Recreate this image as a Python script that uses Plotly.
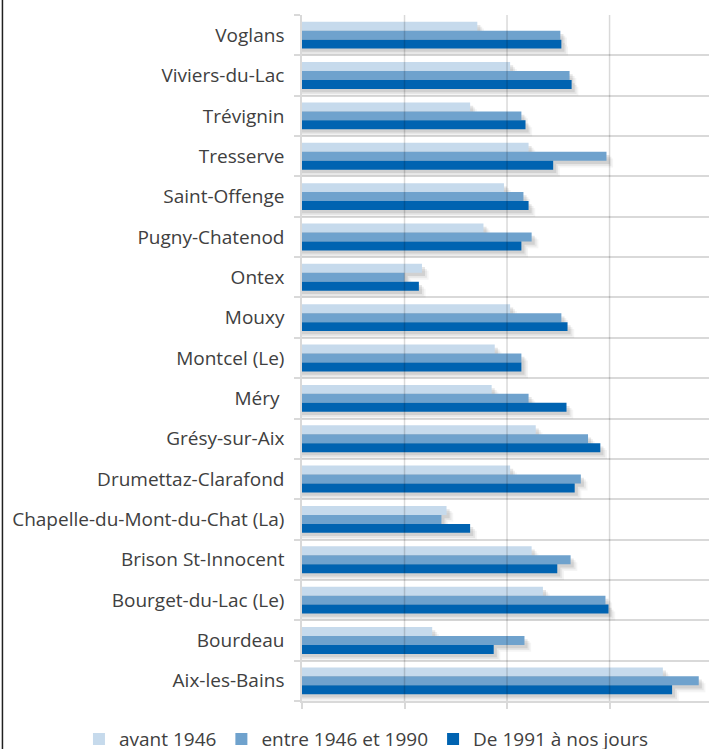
import plotly.graph_objects as go

# ---- data (unit = one vertical gridline step) ----
communes = [
    "Aix-les-Bains", "Bourdeau", "Bourget-du-Lac (Le)", "Brison St-Innocent",
    "Chapelle-du-Mont-du-Chat (La)", "Drumettaz-Clarafond", "Grésy-sur-Aix",
    "Méry ", "Montcel (Le)", "Mouxy", "Ontex", "Pugny-Chatenod",
    "Saint-Offenge", "Tresserve", "Trévignin", "Viviers-du-Lac", "Voglans",
]
avant_1946 = [3.52, 1.27, 2.35, 2.24, 1.41, 2.03, 2.28, 1.85, 1.88, 2.03,
              1.17, 1.77, 1.97, 2.21, 1.64, 2.03, 1.71]
entre_1946_1990 = [3.87, 2.17, 2.96, 2.62, 1.36, 2.72, 2.79, 2.21, 2.14, 2.53,
                   1.00, 2.24, 2.16, 2.97, 2.14, 2.61, 2.52]
depuis_1991 = [3.61, 1.87, 2.99, 2.49, 1.64, 2.66, 2.91, 2.58, 2.14, 2.59,
               1.14, 2.14, 2.21, 2.45, 2.18, 2.63, 2.53]
series_names = ["avant 1946", "entre 1946 et 1990", "De 1991 à nos jours"]
grid_ticks = [0, 1, 2, 3, 4]

# ---- styling ----
colors = ["#C6DAEC", "#6FA2CD", "#0063B1"]
BAR_W = 0.222
offsets = [0.111, -0.111, -0.333]   # light on top, dark at bottom
FONT = "Open Sans"
TXT = "#404040"
GRID = "#D9D9D9"

fig = go.Figure()

all_series = [avant_1946, entre_1946_1990, depuis_1991]

# soft drop shadows (drawn first, beneath the bars)
shadow_layers = [(0.065, 0.17, 0.05), (0.048, 0.125, 0.08), (0.03, 0.08, 0.12)]
for dx, dy, alpha in shadow_layers:
    for vals, off in zip(all_series, offsets):
        fig.add_trace(go.Bar(
            y=communes, x=[v + dx for v in vals], orientation="h",
            width=BAR_W, offset=off - dy,
            marker=dict(color=f"rgba(60,60,60,{alpha})", line=dict(width=0)),
            showlegend=False, hoverinfo="skip",
        ))

for vals, name, col, off in zip(all_series, series_names, colors, offsets):
    fig.add_trace(go.Bar(
        y=communes, x=vals, orientation="h", name=name,
        width=BAR_W, offset=off,
        marker=dict(color=col, line=dict(width=0)),
    ))

# vertical gridlines, semi-transparent so they show through the bars
for t in grid_ticks[1:]:
    fig.add_shape(type="line", xref="x", yref="paper", x0=t, x1=t, y0=0, y1=1,
                  line=dict(color="rgba(0,0,0,0.15)", width=1.5), layer="above")

# left border of the chart area
fig.add_shape(type="line", xref="paper", yref="paper", x0=-0.736, x1=-0.736,
              y0=-0.1, y1=1.1, line=dict(color="#202020", width=1.5))

fig.update_layout(
    width=709, height=749,
    margin=dict(l=302, r=0, t=15, b=48, autoexpand=False),
    paper_bgcolor="white", plot_bgcolor="white",
    barmode="overlay",
    font=dict(family=FONT, size=19, color=TXT),
    showlegend=True,
    legend=dict(
        orientation="h", xref="paper", yref="paper",
        x=-0.548, xanchor="left", y=-0.028, yanchor="top",
        font=dict(family=FONT, size=19, color=TXT),
        traceorder="normal", itemwidth=30,
    ),
    xaxis=dict(
        range=[0, 3.97], tickvals=grid_ticks, showticklabels=False,
        showgrid=False,
        ticks="outside", ticklen=6, tickcolor=GRID, tickwidth=1.5,
        showline=True, linecolor=GRID, linewidth=1.5, zeroline=False,
        fixedrange=True,
    ),
    yaxis=dict(
        type="category", categoryorder="array", categoryarray=communes,
        range=[-0.5, len(communes) - 0.5],
        tickson="boundaries", ticks="outside", ticklen=6, tickcolor=GRID, tickwidth=1.5,
        showgrid=True, gridcolor=GRID, gridwidth=1.5,
        showline=True, linecolor=GRID, linewidth=1.5,
        ticklabelstandoff=12,
        tickfont=dict(family=FONT, size=19, color=TXT),
        fixedrange=True,
    ),
)

fig.write_html(
    "out.html",
    config={"displayModeBar": False},
    post_script="document.body.style.margin='0';document.body.style.overflow='hidden';",
)
